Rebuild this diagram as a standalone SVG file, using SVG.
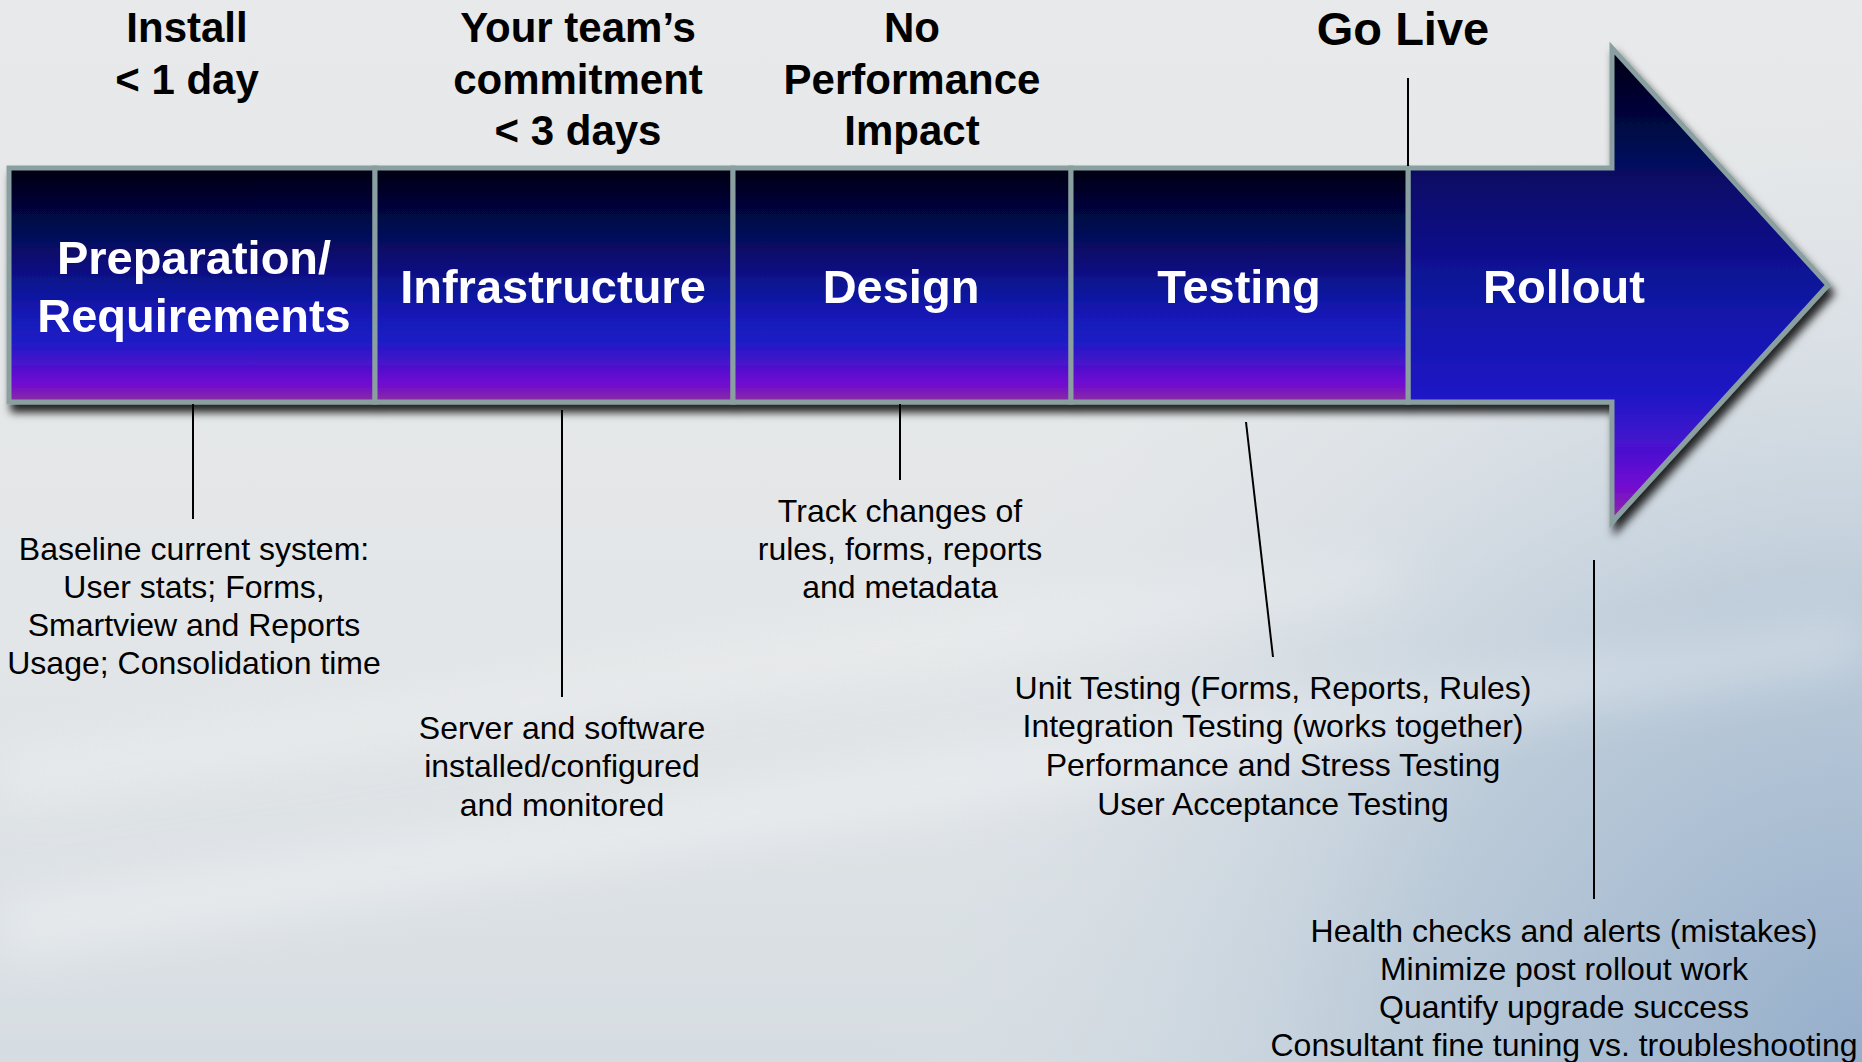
<svg xmlns="http://www.w3.org/2000/svg" width="1862" height="1062" viewBox="0 0 1862 1062">
<defs>
<linearGradient id="bgBase" x1="0" y1="0" x2="0" y2="1">
<stop offset="0" stop-color="#e8e9ea"/>
<stop offset="0.6" stop-color="#e3e6e8"/>
<stop offset="1" stop-color="#d6dde2"/>
</linearGradient>
<radialGradient id="bgBlue" cx="1862" cy="1062" r="1000" gradientUnits="userSpaceOnUse">
<stop offset="0" stop-color="#95aecb" stop-opacity="1"/>
<stop offset="0.45" stop-color="#afc2d4" stop-opacity="0.75"/>
<stop offset="1" stop-color="#dfe5ea" stop-opacity="0"/>
</radialGradient>
<linearGradient id="boxFill" x1="0" y1="0" x2="0" y2="1">
<stop offset="0" stop-color="#000010"/>
<stop offset="0.35" stop-color="#070c68"/>
<stop offset="0.62" stop-color="#1419b4"/>
<stop offset="0.74" stop-color="#1d1cc6"/>
<stop offset="0.84" stop-color="#4a12cc"/>
<stop offset="0.92" stop-color="#7008d2"/>
<stop offset="1" stop-color="#8a30a0"/>
</linearGradient>
<linearGradient id="arrowFill" x1="0" y1="48" x2="0" y2="522" gradientUnits="userSpaceOnUse">
<stop offset="0" stop-color="#000010"/>
<stop offset="0.28" stop-color="#070c68"/>
<stop offset="0.6" stop-color="#1416b2"/>
<stop offset="0.74" stop-color="#2019c6"/>
<stop offset="0.86" stop-color="#5010d0"/>
<stop offset="0.92" stop-color="#7008d2"/>
<stop offset="1" stop-color="#9030a0"/>
</linearGradient>
<filter id="shadow" x="-5%" y="-10%" width="115%" height="130%">
<feDropShadow dx="4" dy="8" stdDeviation="4" flood-color="#000" flood-opacity="0.85"/>
</filter>
<filter id="soft" x="-20%" y="-50%" width="140%" height="200%">
<feGaussianBlur stdDeviation="25"/>
</filter>
<style>
.box { fill: url(#boxFill); stroke: #8aa0a0; stroke-width: 5; }
.arrow { fill: url(#arrowFill); stroke: #8aa0a0; stroke-width: 5; stroke-linejoin: miter; }
.phase { font-family: "Liberation Sans", Arial, sans-serif; font-weight: bold; font-size: 47px; fill: #ffffff; text-anchor: middle; }
.top { font-family: "Liberation Sans", Arial, sans-serif; font-weight: bold; font-size: 42px; fill: #000000; text-anchor: middle; }
.golive { font-family: "Liberation Sans", Arial, sans-serif; font-weight: bold; font-size: 47px; fill: #000000; text-anchor: middle; }
.note { font-family: "Liberation Sans", Arial, sans-serif; font-size: 32px; fill: #000000; text-anchor: middle; }
.conn line { stroke: #000000; stroke-width: 2; }
</style>
</defs>

<rect x="0" y="0" width="1862" height="1062" fill="url(#bgBase)"/>
<rect x="0" y="0" width="1862" height="1062" fill="url(#bgBlue)"/>
<g opacity="0.35" filter="url(#soft)">
<polygon points="0,900 1862,620 1862,660 0,960" fill="#ffffff"/>
<polygon points="0,760 1400,560 1400,585 0,800" fill="#ffffff"/>
</g>

<g filter="url(#shadow)">
<g id="rollout">
<path class="arrow" d="M1408,168 L1612,168 L1612,48 L1828,285 L1612,522 L1612,402 L1408,402 Z"/>
<text class="phase" x="1564" y="303">Rollout</text>
</g>
<g id="preparation">
<rect class="box" x="9" y="168" width="366" height="234"/>
<text class="phase" x="194" y="274">Preparation/</text>
<text class="phase" x="194" y="332">Requirements</text>
</g>
<g id="infrastructure">
<rect class="box" x="375" y="168" width="358" height="234"/>
<text class="phase" x="553" y="303">Infrastructure</text>
</g>
<g id="design">
<rect class="box" x="733" y="168" width="338" height="234"/>
<text class="phase" x="901" y="303">Design</text>
</g>
<g id="testing">
<rect class="box" x="1071" y="168" width="337" height="234"/>
<text class="phase" x="1239" y="303">Testing</text>
</g>
</g>

<g id="top-labels">
<text class="top" x="187" y="42">Install</text>
<text class="top" x="187" y="94">&lt; 1 day</text>
<text class="top" x="578" y="42">Your team’s</text>
<text class="top" x="578" y="94">commitment</text>
<text class="top" x="578" y="145">&lt; 3 days</text>
<text class="top" x="912" y="42">No</text>
<text class="top" x="912" y="94">Performance</text>
<text class="top" x="912" y="145">Impact</text>
<text class="golive" x="1403" y="45">Go Live</text>
</g>

<g id="connectors" class="conn">
<line x1="1408" y1="78" x2="1408" y2="166"/>
<line x1="193" y1="404" x2="193" y2="519"/>
<line x1="562" y1="410" x2="562" y2="697"/>
<line x1="900" y1="404" x2="900" y2="480"/>
<line x1="1246" y1="422" x2="1273" y2="657"/>
<line x1="1594" y1="560" x2="1594" y2="899"/>
</g>

<g id="note-preparation">
<text class="note" x="194" y="560">Baseline current system:</text>
<text class="note" x="194" y="598">User stats; Forms,</text>
<text class="note" x="194" y="636">Smartview and Reports</text>
<text class="note" x="194" y="674">Usage; Consolidation time</text>
</g>
<g id="note-infrastructure">
<text class="note" x="562" y="739">Server and software</text>
<text class="note" x="562" y="777">installed/configured</text>
<text class="note" x="562" y="816">and monitored</text>
</g>
<g id="note-design">
<text class="note" x="900" y="522">Track changes of</text>
<text class="note" x="900" y="560">rules, forms, reports</text>
<text class="note" x="900" y="598">and metadata</text>
</g>
<g id="note-testing">
<text class="note" x="1273" y="699">Unit Testing (Forms, Reports, Rules)</text>
<text class="note" x="1273" y="737">Integration Testing (works together)</text>
<text class="note" x="1273" y="776">Performance and Stress Testing</text>
<text class="note" x="1273" y="815">User Acceptance Testing</text>
</g>
<g id="note-rollout">
<text class="note" x="1564" y="942">Health checks and alerts (mistakes)</text>
<text class="note" x="1564" y="980">Minimize post rollout work</text>
<text class="note" x="1564" y="1018">Quantify upgrade success</text>
<text class="note" x="1564" y="1056">Consultant fine tuning vs. troubleshooting</text>
</g>
</svg>
